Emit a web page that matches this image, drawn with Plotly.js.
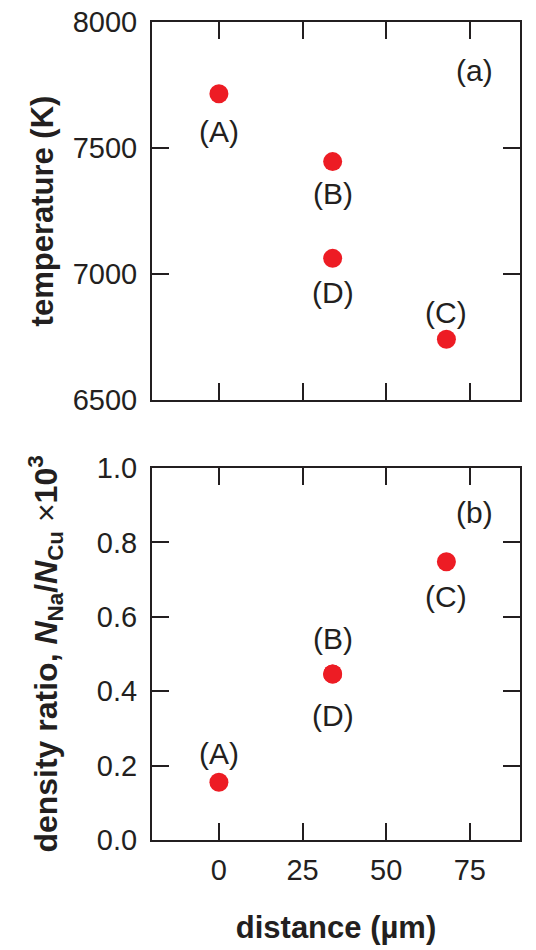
<!DOCTYPE html>
<html><head><meta charset="utf-8">
<script src="https://cdn.plot.ly/plotly-3.0.1.min.js"></script>
<style>body{margin:0;padding:0;background:#fff}</style>
</head><body><div id="chart" style="width:536px;height:950px"></div>
<script>
// data
const pointLabels = ["(A)", "(B)", "(D)", "(C)"];
const distance = [0, 34, 34, 68];                  // µm
const temperature = [7715, 7446, 7062, 6741];      // K
const densityRatio = [0.155, 0.446, 0.446, 0.748]; // N_Na/N_Cu ×10^3
const xTicks = [0, 25, 50, 75];
const tempTicks = [6500, 7000, 7500, 8000];
const densTicks = [0, 0.2, 0.4, 0.6, 0.8, 1.0];

// label placement (pixels above(+)/below(-) each marker)
const tempLabelShift = [-38, -32, -34, 27];
const densLabelShift = [29, 36, -41, -35];

const ink = '#231F20';
const red = '#ED1C24';
const fontFam = 'Liberation Sans, Arial, sans-serif';

const traces = [
  {x: distance, y: temperature, xaxis: 'x', yaxis: 'y', mode: 'markers',
   marker: {color: red, size: 19}, cliponaxis: false, showlegend: false},
  {x: distance, y: densityRatio, xaxis: 'x2', yaxis: 'y2', mode: 'markers',
   marker: {color: red, size: 19}, cliponaxis: false, showlegend: false}
];

const labelFont = {family: fontFam, size: 30, color: ink};
const pointAnns = [];
pointLabels.forEach((t, i) => {
  pointAnns.push({x: distance[i], y: temperature[i], xref: 'x', yref: 'y', text: t,
    showarrow: false, yshift: tempLabelShift[i], xanchor: 'center', yanchor: 'middle', font: labelFont});
  pointAnns.push({x: distance[i], y: densityRatio[i], xref: 'x2', yref: 'y2', text: t,
    showarrow: false, yshift: densLabelShift[i], xanchor: 'center', yanchor: 'middle', font: labelFont});
});

const axBase = {
  showline: true, linecolor: ink, linewidth: 2, mirror: 'ticks',
  ticks: 'inside', ticklen: 17, tickwidth: 2, tickcolor: ink,
  showgrid: false, zeroline: false,
  tickfont: {family: fontFam, size: 29, color: ink}
};
const titleFont = {family: fontFam, size: 31, color: ink, weight: 'bold'};

const layout = {
  width: 536, height: 950,
  margin: {l: 152, r: 16, t: 22, b: 110},
  paper_bgcolor: '#fff', plot_bgcolor: '#fff',
  font: {family: fontFam, color: ink},
  xaxis: Object.assign({}, axBase, {anchor: 'y', range: [-20, 90], tickvals: xTicks, showticklabels: false}),
  xaxis2: Object.assign({}, axBase, {anchor: 'y2', range: [-20, 90], tickvals: xTicks,
    ticktext: xTicks.map(String), ticklabelstandoff: 3,
    title: {text: 'distance (µm)', font: titleFont, standoff: 32}}),
  yaxis: Object.assign({}, axBase, {anchor: 'x', domain: [0.5379, 1], range: [6500, 8000], tickvals: tempTicks,
    ticklabelstandoff: 7,
    title: {text: 'temperature (K)', font: titleFont, standoff: 10}}),
  yaxis2: Object.assign({}, axBase, {anchor: 'x2', domain: [0, 0.4548], range: [0, 1.0], tickvals: densTicks,
    ticktext: densTicks.map(v => v.toFixed(1)), ticklabelstandoff: 7,
    title: {text: "density ratio, <i>N</i><sub>Na</sub>/<i>N</i><sub>Cu</sub> <span style='font-weight:normal'>×</span>10<sup>3</sup>",
      font: Object.assign({}, titleFont, {size: 32}), standoff: 30}}),
  annotations: pointAnns.concat([
    {text: '(a)', xref: 'x domain', yref: 'y domain', x: 0.877, y: 0.873, showarrow: false,
     xanchor: 'center', yanchor: 'middle', font: labelFont},
    {text: '(b)', xref: 'x2 domain', yref: 'y2 domain', x: 0.877, y: 0.879, showarrow: false,
     xanchor: 'center', yanchor: 'middle', font: labelFont}
  ])
};

Plotly.newPlot('chart', traces, layout, {displayModeBar: false, staticPlot: true});
</script></body></html>
